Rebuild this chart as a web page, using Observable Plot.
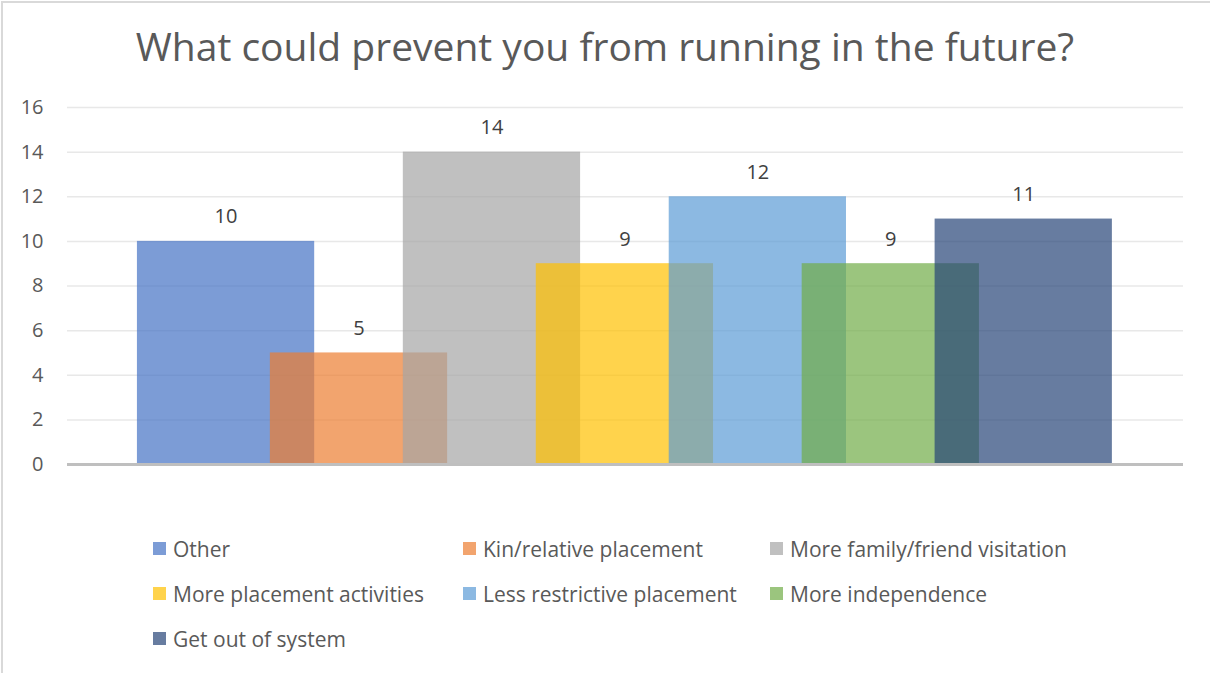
<!DOCTYPE html>
<html>
<head>
<meta charset="utf-8">
<script src="https://cdn.jsdelivr.net/npm/d3@7"></script>
<script src="https://cdn.jsdelivr.net/npm/@observablehq/plot@0.6"></script>
<style>
  html, body { margin: 0; padding: 0; background: #fff; }
  #wrap { position: relative; width: 1210px; height: 673px; overflow: hidden; font-family: "Open Sans", sans-serif; }
  #frame { position: absolute; left: 1px; top: 1px; width: 1300px; height: 800px; border-left: 2px solid #d9d9d9; border-top: 2px solid #d9d9d9; }
  #title { position: absolute; left: 0; top: 26px; width: 1210px; text-align: center; font-size: 39px; line-height: 39px; color: #595959; }
  #chart { position: absolute; left: 0; top: 90px; }
  #legend { position: absolute; left: 153px; top: 526px; display: grid; grid-template-columns: 310px 307px auto; grid-auto-rows: 45px; }
  .item { display: flex; align-items: center; font-size: 21px; color: #595959; white-space: nowrap; }
  .sw { width: 13px; height: 13px; margin-right: 7px; flex: none; }
</style>
</head>
<body>
<div id="wrap">
  <div id="frame"></div>
  <div id="title">What could prevent you from running in the future?</div>
  <div id="chart"></div>
  <div id="legend"></div>
</div>
<script>
const categories = ["Other", "Kin/relative placement", "More family/friend visitation", "More placement activities", "Less restrictive placement", "More independence", "Get out of system"];
const counts = [10, 5, 14, 9, 12, 9, 11];
const colors = ["#4472C4", "#ED7D31", "#A5A5A5", "#FFC000", "#5B9BD5", "#70AD47", "#264478"];
const yTicks = [0, 2, 4, 6, 8, 10, 12, 14, 16];

const SPAN = 4 / 3; // each bar spans 4/3 of a slot, so neighbours overlap
const data = categories.map((name, i) => ({ name, value: counts[i], slot: i }));

const chart = Plot.plot({
  width: 1210,
  height: 400,
  marginLeft: 67,
  marginRight: 27,
  marginTop: 17,
  marginBottom: 26,
  style: { fontFamily: "Open Sans, sans-serif", background: "transparent" },
  x: { type: "linear", domain: [-0.526, 6 + SPAN + 0.535], axis: null },
  y: { domain: [0, 16], axis: null },
  color: { domain: categories, range: colors },
  marks: [
    Plot.gridY(yTicks, { stroke: "#e8e8e8", strokeOpacity: 1, strokeWidth: 1.5 }),
    Plot.axisY(yTicks, { tickSize: 0, tickPadding: 24, fontSize: 20, color: "#595959", label: null }),
    Plot.rect(data, {
      x1: "slot",
      x2: d => d.slot + SPAN,
      y1: () => 0,
      y2: "value",
      fill: "name",
      fillOpacity: 0.7
    }),
    Plot.ruleY([0], { stroke: "#bfbfbf", strokeWidth: 3 }),
    Plot.text(data, {
      x: d => d.slot + SPAN / 2,
      y: "value",
      text: d => String(d.value),
      lineAnchor: "bottom",
      dy: -18,
      fontSize: 20,
      fill: "#404040"
    })
  ]
});
document.getElementById("chart").appendChild(chart);

const legend = d3.select("#legend");
categories.forEach((name, i) => {
  const item = legend.append("div").attr("class", "item");
  item.append("div").attr("class", "sw").style("background", colors[i]).style("opacity", 0.7);
  item.append("span").text(name);
});
</script>
</body>
</html>
